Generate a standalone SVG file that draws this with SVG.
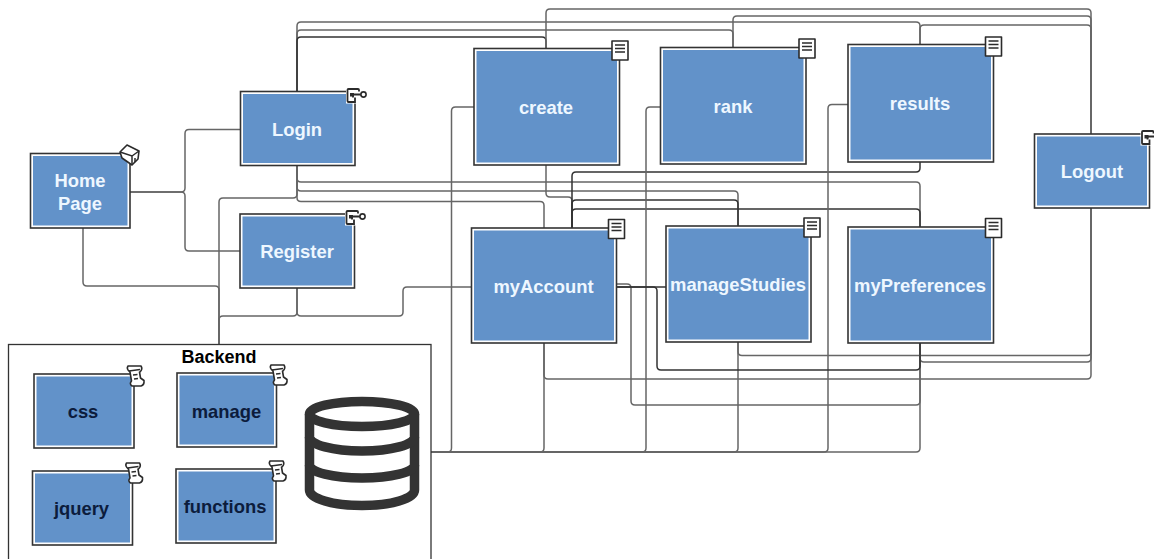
<svg xmlns="http://www.w3.org/2000/svg" width="1154" height="559" viewBox="0 0 1154 559">
<style>
text{font-family:"Liberation Sans",Arial,sans-serif;font-weight:700;font-size:18.4px;text-anchor:middle}
.t{fill:#eef7ff}
.k{fill:#0c1c3c}
.o{fill:#fff;stroke:#333;stroke-width:1.6}
.b{fill:#6292c9}
#connectors path{fill:none;stroke:#666;stroke-width:1.5}
#connectors .d{stroke:#333}
.i{fill:#fff;stroke:#2b2b2b;stroke-width:1.6;stroke-linejoin:round}
.il{fill:none;stroke:#2b2b2b;stroke-width:1.5}
.db{fill:none;stroke:#333;stroke-width:9.5}
</style>
<defs>
<g id="doc"><rect class="i" x="0" y="0" width="16" height="19"/><path class="il" d="M3 4H13M3 7.500H13M3 11H13"/></g>
<g id="key"><rect x="-1" y="-1" width="14" height="16" fill="#fff"/><path class="il" style="stroke-width:1.8" d="M12 3V1.500Q12 0.500 11 0.500H1.500Q0.500 0.500 0.500 1.500V12.500Q0.500 13.500 1.500 13.500H8V9"/><path class="il" style="stroke-width:1.8" d="M3.500 6H14M6 6V9"/><rect x="3" y="4.500" width="4" height="3.500" fill="#2b2b2b"/><circle class="i" cx="16.500" cy="6" r="2.600"/></g>
<g id="home"><path class="i" d="M0 7L7 0L19 6L18 14L12 20L2 13Z"/><path class="il" d="M0 7L12 11L19 6M12 11V20M15 13V17"/></g>
<g id="scroll"><path class="i" d="M2 0H15Q17 3 14 6L13.500 6L14.500 12L18 14.500Q18.500 19 15 20H6Q3 18 5.500 15L4 6Q0 3 2 0Z"/><path class="il" d="M3 5L14 3.500M7 9L11.500 8.500M8 13L12 12.500"/></g>
</defs>
<g id="connectors">
<path d="M130 192H181Q185 192 185 188V133.500Q185 129.500 189 129.500H240"/>
<path d="M130 192H181Q185 192 185 196V247Q185 251 189 251H240"/>
<path d="M83 228V282Q83 286 87 286H215Q219 286 219 290V344"/>
<path d="M297 166V194Q297 198 293 198H223Q219 198 219 202V344"/>
<path d="M297 288V312Q297 316 293 316H223Q219 316 219 320V344"/>
<path d="M297 288V312Q297 316 301 316H399Q403 316 403 312V291Q403 287 407 287H471"/>
<path d="M297 91V26Q297 22 301 22H916Q920 22 920 26V44"/>
<path d="M297 91V34Q297 30 301 30H729Q733 30 733 34V47"/>
<path class="d" d="M297 91V41Q297 37 301 37H542Q546 37 546 41V48"/>
<path d="M546 48V13Q546 9 550 9H1087Q1091 9 1091 13V134"/>
<path d="M733 47V20Q733 16 737 16H1087Q1091 16 1091 20V134"/>
<path d="M920 44V29Q920 25 924 25H1087Q1091 25 1091 29V134"/>
<path d="M1091 208V351.500Q1091 355.500 1087 355.500H742Q738 355.500 738 351.500V342"/>
<path d="M1091 208V358Q1091 362 1087 362H924Q920 362 920 358V343"/>
<path d="M1091 208V375Q1091 379 1087 379H548Q544 379 544 375V343"/>
<path d="M297 166V178Q297 182 301 182H916Q920 182 920 186V227"/>
<path d="M297 166V187Q297 191 301 191H734Q738 191 738 195V226"/>
<path d="M297 166V197.500Q297 201.500 301 201.500H540Q544 201.500 544 205.500V228"/>
<path d="M546 165V193Q546 197 550 197H568Q572 197 572 201V228"/>
<path class="d" d="M572 228V176Q572 172 576 172H916Q920 172 920 168V162"/>
<path class="d" d="M572 228V204Q572 200 576 200H734Q738 200 738 204V226"/>
<path class="d" d="M572 228V213Q572 209 576 209H916Q920 209 920 213V227"/>
<path d="M431 452H447.500Q451.500 452 451.500 448V111Q451.500 107 455.500 107H474"/>
<path d="M431 452H540Q544 452 544 448V343"/>
<path d="M431 452H642Q646 452 646 448V111Q646 107 650 107H660"/>
<path d="M431 452H734Q738 452 738 448V342"/>
<path d="M431 452H824Q828 452 828 448V108.500Q828 104.500 832 104.500H848"/>
<path d="M431 452H916Q920 452 920 448V343"/>
<path d="M617 284H627Q631 284 631 288V401Q631 405 635 405H916Q920 405 920 401V343"/>
<path class="d" d="M617 287H666"/>
<path class="d" d="M617 287H653Q657 287 657 291V366Q657 370 661 370H916Q920 370 920 366V343"/>
</g>
<g id="home-page"><rect class="o" x="30.500" y="153.500" width="99.500" height="74.500"/><rect class="b" x="33" y="156" width="94.500" height="69.500"/><text class="t" x="80" y="187">Home</text><text class="t" x="80" y="210">Page</text><use href="#home" x="120" y="145"/></g>
<g id="login"><rect class="o" x="240.500" y="91.500" width="114.500" height="74"/><rect class="b" x="243" y="94" width="109.500" height="69"/><text class="t" x="297" y="136">Login</text><use href="#key" x="347" y="88.500"/></g>
<g id="register"><rect class="o" x="240" y="214" width="114.500" height="74"/><rect class="b" x="242.500" y="216.500" width="109.500" height="69"/><text class="t" x="297" y="258">Register</text><use href="#key" x="346" y="210.500"/></g>
<g id="create"><rect class="o" x="474" y="48.500" width="145.500" height="116.500"/><rect class="b" x="476.500" y="51" width="140.500" height="111.500"/><text class="t" x="546" y="114">create</text><use href="#doc" x="612" y="41"/></g>
<g id="rank"><rect class="o" x="660.500" y="47.500" width="145.500" height="116.500"/><rect class="b" x="663" y="50" width="140.500" height="111.500"/><text class="t" x="733" y="113">rank</text><use href="#doc" x="799" y="39"/></g>
<g id="results"><rect class="o" x="848" y="44.500" width="145.500" height="117.500"/><rect class="b" x="850.500" y="47" width="140.500" height="112.500"/><text class="t" x="920" y="110">results</text><use href="#doc" x="985.500" y="37"/></g>
<g id="logout"><rect class="o" x="1034.500" y="134" width="115" height="74"/><rect class="b" x="1037" y="136.500" width="110" height="69"/><text class="t" x="1092" y="178">Logout</text><use href="#key" x="1141.500" y="130.500"/></g>
<g id="myAccount"><rect class="o" x="471.500" y="228" width="145" height="115"/><rect class="b" x="474" y="230.500" width="140" height="110"/><text class="t" x="543.500" y="293">myAccount</text><use href="#doc" x="608.500" y="219.500"/></g>
<g id="manageStudies"><rect class="o" x="666" y="226" width="145" height="116"/><rect class="b" x="668.500" y="228.500" width="140" height="111"/><text class="t" x="738" y="291">manageStudies</text><use href="#doc" x="804" y="218"/></g>
<g id="myPreferences"><rect class="o" x="848" y="227" width="145.500" height="116"/><rect class="b" x="850.500" y="229.500" width="140.500" height="111"/><text class="t" x="920" y="292">myPreferences</text><use href="#doc" x="985.500" y="218.500"/></g>
<g id="backend"><rect x="8.500" y="344.500" width="422.500" height="220" fill="#fff" stroke="#333" stroke-width="1.300"/><text x="219" y="363" fill="#000" style="font-size:18px">Backend</text>
<g id="database"><ellipse class="db" cx="362" cy="414" rx="52.500" ry="12.500"/><path class="db" d="M309.500 414V490A52.500 15.500 0 0 0 414.500 490V414"/><path class="db" d="M309.500 437A52.500 14 0 0 0 414.500 437"/><path class="db" d="M309.500 465A52.500 13 0 0 0 414.500 465"/></g></g>
<g id="css"><rect class="o" x="34" y="374" width="100" height="74"/><rect class="b" x="36.500" y="376.500" width="95" height="69"/><text class="k" x="83" y="418">css</text><use href="#scroll" x="126" y="366"/></g>
<g id="manage"><rect class="o" x="177" y="373" width="99.500" height="74"/><rect class="b" x="179.500" y="375.500" width="94.500" height="69"/><text class="k" x="226.500" y="418">manage</text><use href="#scroll" x="269" y="365"/></g>
<g id="jquery"><rect class="o" x="32.500" y="471" width="100" height="74"/><rect class="b" x="35" y="473.500" width="95" height="69"/><text class="k" x="81.500" y="515">jquery</text><use href="#scroll" x="124.500" y="463"/></g>
<g id="functions"><rect class="o" x="176" y="469" width="100" height="74"/><rect class="b" x="178.500" y="471.500" width="95" height="69"/><text class="k" x="225" y="513">functions</text><use href="#scroll" x="268" y="461"/></g>
</svg>
